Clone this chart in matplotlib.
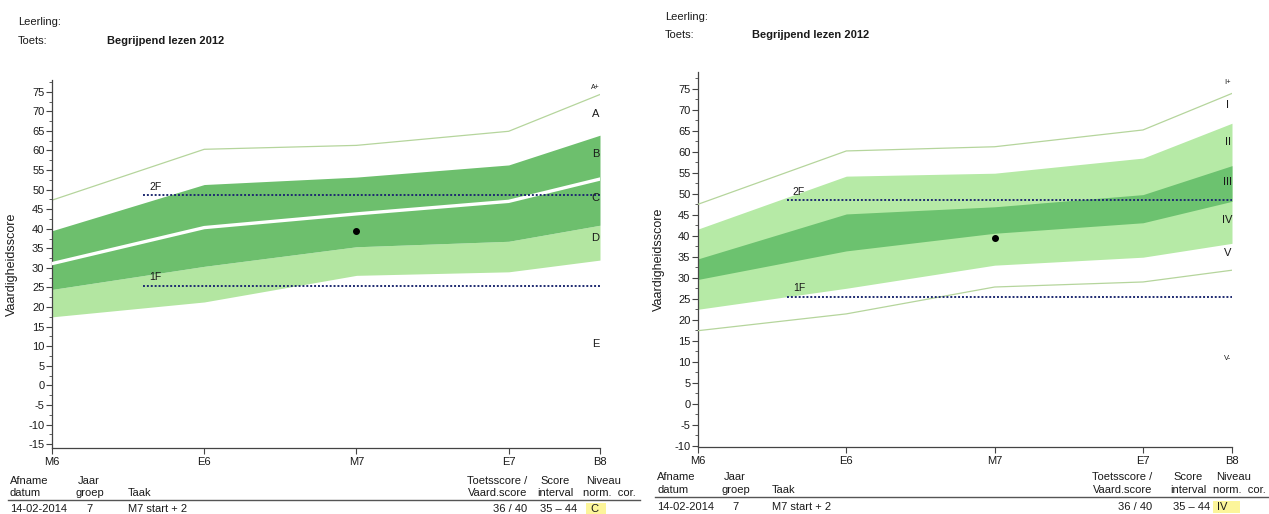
import matplotlib
matplotlib.use("Agg")
import matplotlib.pyplot as plt
from matplotlib.lines import Line2D
from matplotlib.patches import Rectangle
import numpy as np

plt.rcParams['font.family'] = ['Liberation Sans', 'DejaVu Sans']
plt.rcParams['axes.unicode_minus'] = False

# ---------------- data ----------------
moments = ["M6", "E6", "M7", "E7", "B8"]
moment_pos = [0, 5, 10, 15, 18]

# left chart (A-E)
left_top_line = [47.3, 60.3, 61.3, 64.9, 74.3]
left_b_top = [39.5, 51.3, 53.2, 56.3, 63.9]
left_bc_line = [31.1, 40.3, 43.8, 47.0, 52.7]
left_cd = [24.5, 30.4, 35.4, 36.8, 40.9]
left_de = [17.5, 21.3, 28.1, 29.0, 32.0]
left_levels = ["A+", "A", "B", "C", "D", "E"]
left_level_y = [76.2, 69.3, 59.0, 47.8, 37.6, 10.6]

# right chart (I-V)
right_top_line = [47.5, 60.2, 61.2, 65.2, 73.9]
right_light_top = [41.6, 54.2, 54.9, 58.5, 66.8]
right_dark_top = [34.5, 45.2, 46.9, 49.8, 56.7]
right_dark_bot = [29.6, 36.4, 40.6, 43.1, 48.2]
right_light_bot = [22.5, 27.5, 33.0, 34.9, 38.2]
right_bot_line = [17.4, 21.4, 27.8, 29.0, 31.8]
right_levels = ["I+", "I", "II", "III", "IV", "V", "V-"]
right_level_y = [76.6, 71.2, 62.4, 52.9, 43.8, 36.0, 10.8]

ref_names = ["2F", "1F"]
ref_values = [48.5, 25.5]
ref_start = 3

student_pos = 10
student_score = 39.5

row_values = ["14-02-2014", "7", "M7 start + 2", "36 / 40", "35 \u2013 44"]
left_niveau = "C"
right_niveau = "IV"

# ---------------- style ----------------
W, H = 1269, 514
DARK_L = "#6dbf6d"
LIGHT_L = "#b3e6a1"
DARK_R = "#6cc26f"
LIGHT_R = "#b6eaa6"
THIN = "#b5d59c"
DOT = "#1e2a70"
TXT = "#1a1a1a"

fig = plt.figure(figsize=(W / 100, H / 100), dpi=100)
fig.patch.set_facecolor("white")


def px_axes(x0, y0, x1, y1):
    return fig.add_axes([x0 / W, 1 - y1 / H, (x1 - x0) / W, (y1 - y0) / H])


def ftext(x, y, s, **kw):
    kw.setdefault("fontsize", 8)
    kw.setdefault("color", TXT)
    kw.setdefault("va", "center")
    fig.text(x / W, 1 - y / H, s, **kw)


def style_axes(ax, ymin, ymax, ybottom_tick):
    ax.set_xlim(0, 18)
    ax.set_ylim(ymin, ymax)
    for s in ["top", "right"]:
        ax.spines[s].set_visible(False)
    for s in ["left", "bottom"]:
        ax.spines[s].set_color("#444444")
        ax.spines[s].set_linewidth(0.9)
    ax.set_xticks(moment_pos)
    ax.set_xticklabels(moments)
    ax.set_yticks(np.arange(ybottom_tick, 76, 5))
    ax.set_yticks(np.arange(ybottom_tick, 78.6, 2.5), minor=True)
    ax.tick_params(axis="y", which="major", length=4, labelsize=8, colors="#444444", labelcolor=TXT, pad=1.5)
    ax.tick_params(axis="y", which="minor", length=2, colors="#444444")
    ax.tick_params(axis="x", which="major", length=4, labelsize=8, colors="#444444", labelcolor=TXT, pad=2.5)
    ax.set_ylabel("Vaardigheidsscore", fontsize=9, color=TXT)
    ax.yaxis.set_label_coords(-0.062, 0.5)
    ax.set_facecolor("white")


def ref_lines(ax):
    for name, v in zip(ref_names, ref_values):
        ax.plot([ref_start, 18], [v, v], color=DOT, lw=1.4, ls=(0, (1, 1)), zorder=5)
        ax.text(ref_start + 0.2, v + 0.8, name, fontsize=7.5, color=TXT, va="bottom", ha="left", zorder=6)


# ---------------- left chart ----------------
axL = px_axes(52, 80, 600, 448)
style_axes(axL, -16, 78, -15)
axL.fill_between(moment_pos, left_de, left_cd, color=LIGHT_L, lw=0, zorder=1)
axL.fill_between(moment_pos, left_cd, left_b_top, color=DARK_L, lw=0, zorder=1)
axL.plot(moment_pos, left_bc_line, color="white", lw=2.4, zorder=3)
axL.plot(moment_pos, left_top_line, color=THIN, lw=0.9, zorder=2)
ref_lines(axL)
axL.plot([student_pos], [student_score], "o", color="black", ms=4, zorder=7)
for lab, yv in zip(left_levels, left_level_y):
    axL.text(17.85, yv, lab, ha="center", va="center", fontsize=5 if lab == "A+" else 8, color=TXT, zorder=8)

# ---------------- right chart ----------------
axR = px_axes(698, 72, 1232, 447)
style_axes(axR, -10.3, 79, -10)
axR.fill_between(moment_pos, right_light_bot, right_light_top, color=LIGHT_R, lw=0, zorder=1)
axR.fill_between(moment_pos, right_dark_bot, right_dark_top, color=DARK_R, lw=0, zorder=2)
axR.plot(moment_pos, right_top_line, color=THIN, lw=0.9, zorder=3)
axR.plot(moment_pos, right_bot_line, color=THIN, lw=0.9, zorder=3)
ref_lines(axR)
axR.plot([student_pos], [student_score], "o", color="black", ms=4, zorder=7)
for lab, yv in zip(right_levels, right_level_y):
    small = lab in ("I+", "V-")
    axR.text(17.85, yv, lab, ha="center", va="center", fontsize=5.5 if small else 8, color=TXT, zorder=8)

# ---------------- headers ----------------
ftext(18, 22, "Leerling:", fontsize=8)
ftext(18, 41, "Toets:", fontsize=8)
ftext(107, 41, "Begrijpend lezen 2012", fontsize=8, fontweight="bold")

ftext(665, 17, "Leerling:", fontsize=8)
ftext(665, 35, "Toets:", fontsize=8)
ftext(752, 35, "Begrijpend lezen 2012", fontsize=8, fontweight="bold")


# ---------------- tables ----------------
def table(y1, y2, yline, yrow, xline0, xline1, hl_x0, hl_x1, niveau, xs):
    # header
    ftext(xs[0], y1, "Afname")
    ftext(xs[0], y2, "datum")
    ftext(xs[1] + 2, y1, "Jaar")
    ftext(xs[1], y2, "groep")
    ftext(xs[2], y2, "Taak")
    ftext(xs[3], y1, "Toetsscore /", ha="right")
    ftext(xs[3], y2, "Vaard.score", ha="right")
    ftext(xs[4] + 3, y1, "Score")
    ftext(xs[4], y2, "interval")
    ftext(xs[5] + 21, y1, "Niveau", ha="center")
    ftext(xs[5], y2, "norm.  cor.")
    fig.add_artist(Line2D([xline0 / W, xline1 / W], [1 - yline / H, 1 - yline / H],
                          color="#555555", lw=1.0, transform=fig.transFigure))
    # row
    fig.add_artist(Rectangle((hl_x0 / W, 1 - (yrow + 6) / H), (hl_x1 - hl_x0) / W, 12 / H,
                             transform=fig.transFigure, facecolor="#fcf59a", edgecolor="none"))
    ftext(xs[0], yrow, row_values[0])
    ftext(xs[1] + 13, yrow, row_values[1], ha="center")
    ftext(xs[2], yrow, row_values[2])
    ftext(xs[3], yrow, row_values[3], ha="right")
    ftext(xs[4] + 3, yrow, row_values[4])
    ftext(hl_x0 + 4, yrow, niveau)


table(481, 493, 500, 509, 8, 640, 586, 606, left_niveau,
      [10, 76, 128, 527, 537, 583])
table(477, 490, 497, 507, 655, 1269, 1213, 1240, right_niveau,
      [657, 722, 772, 1152, 1170, 1213])

fig.savefig("out.png", dpi=100, facecolor="white")
